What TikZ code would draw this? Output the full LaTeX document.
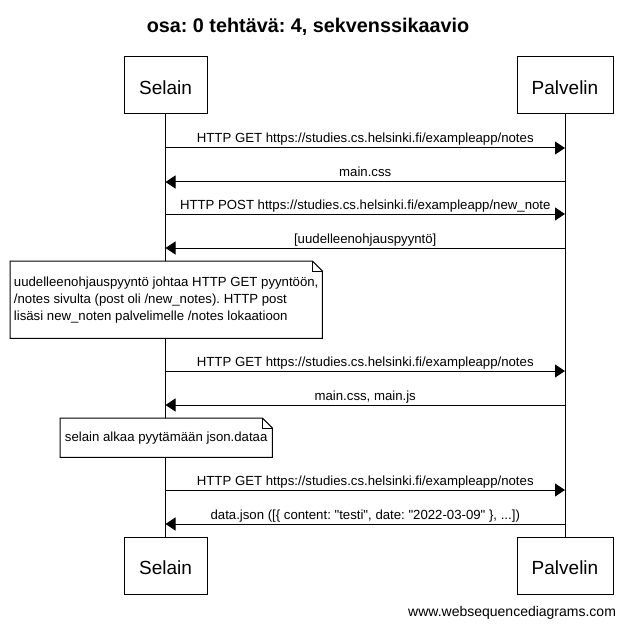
\documentclass[tikz,border=0pt]{standalone}
\usepackage{fontspec}
\newfontfamily\arial{Liberation Sans}
\usetikzlibrary{arrows.meta}
\frenchspacing
\begin{document}
\frenchspacing
\begin{tikzpicture}[x=1pt,y=-1pt,
  actor/.style={draw, line width=1pt, inner sep=0pt, minimum height=57pt,
    text height=17.6pt, text depth=0pt, font=\arial\fontsize{19}{22}\selectfont},
  msg/.style={line width=1pt, -{Triangle[length=10pt,width=13pt]}},
  lbl/.style={font=\arial\fontsize{13.2}{15}\selectfont, anchor=base, yshift=5pt, inner sep=0pt},
  life/.style={line width=1pt},
  notebox/.style={fill=white, inner sep=0pt, anchor=north west, align=left,
    font=\arial\fontsize{13.2}{17}\selectfont},
  noteline/.style={line width=1pt, line join=miter}]
\useasboundingbox (0,0) rectangle (628,628);
\fill[white] (0,0) rectangle (628,628);

% title
\node[anchor=base, inner sep=0pt, font=\arial\bfseries\fontsize{19.8}{22}\selectfont] (title) at (308,33) {osa: 0 tehtävä: 4, sekvenssikaavio};

% actors
\node[actor, minimum width=83pt] (s1) at (165.5,85.5) {Selain};
\node[actor, minimum width=96pt] (p1) at (565,85.5) {Palvelin};
\node[actor, minimum width=83pt] (s2) at (165.5,566) {Selain};
\node[actor, minimum width=96pt] (p2) at (565,566) {Palvelin};

% lifelines
\draw[life] (s1.south) -- (s2.north);
\draw[life] (p1.south) -- (p2.north);

% message end points
\coordinate (s1m) at (165.5,148); \coordinate (p1m) at (565,148);
\coordinate (s2m) at (165.5,182); \coordinate (p2m) at (565,182);
\coordinate (s3m) at (165.5,214); \coordinate (p3m) at (565,214);
\coordinate (s4m) at (165.5,248); \coordinate (p4m) at (565,248);
\coordinate (s5m) at (165.5,371); \coordinate (p5m) at (565,371);
\coordinate (s6m) at (165.5,405); \coordinate (p6m) at (565,405);
\coordinate (s7m) at (165.5,490); \coordinate (p7m) at (565,490);
\coordinate (s8m) at (165.5,524); \coordinate (p8m) at (565,524);

\draw[msg] (s1m) -- node[lbl, midway] (l1) {HTTP GET https://studies.cs.helsinki.fi/exampleapp/notes} (p1m);
\draw[msg] (p2m) -- node[lbl, midway] (l2) {main.css} (s2m);
\draw[msg] (s3m) -- node[lbl, midway] (l3) {HTTP POST https://studies.cs.helsinki.fi/exampleapp/new\_note} (p3m);
\draw[msg] (p4m) -- node[lbl, midway] (l4) {[uudelleenohjauspyyntö]} (s4m);
\draw[msg] (s5m) -- node[lbl, midway] (l5) {HTTP GET https://studies.cs.helsinki.fi/exampleapp/notes} (p5m);
\draw[msg] (p6m) -- node[lbl, midway] (l6) {main.css, main.js} (s6m);
\draw[msg] (s7m) -- node[lbl, midway] (l7) {HTTP GET https://studies.cs.helsinki.fi/exampleapp/notes} (p7m);
\draw[msg] (p8m) -- node[lbl, midway] (l8) {data.json ([\{ content: "testi", date: "2022-03-09" \}, ...])} (s8m);

% note 1
\node[notebox, minimum width=312pt, minimum height=77pt] (n1) at (10,261)
  {uudelleenohjauspyyntö johtaa HTTP GET pyyntöön,\\/notes sivulta (post oli /new\_notes). HTTP post\\lisäsi new\_noten palvelimelle /notes lokaatioon};
\draw[noteline] (n1.north west) -- ([xshift=-10pt]n1.north east) -- ([yshift=-10pt]n1.north east) -- (n1.south east) -- (n1.south west) -- cycle;
\draw[noteline] ([xshift=-10pt]n1.north east) -- ([xshift=-10pt,yshift=-10pt]n1.north east) -- ([yshift=-10pt]n1.north east);

% note 2
\node[notebox, minimum width=212pt, minimum height=39pt] (n2) at (60,418)
  {selain alkaa pyytämään json.dataa};
\draw[noteline] (n2.north west) -- ([xshift=-10pt]n2.north east) -- ([yshift=-10pt]n2.north east) -- (n2.south east) -- (n2.south west) -- cycle;
\draw[noteline] ([xshift=-10pt]n2.north east) -- ([xshift=-10pt,yshift=-10pt]n2.north east) -- ([yshift=-10pt]n2.north east);

% footer
\node[anchor=base west, inner sep=0pt, font=\arial\fontsize{14}{16}\selectfont] (footer) at (408,616.5) {www.websequencediagrams.com};
\end{tikzpicture}
\end{document}
